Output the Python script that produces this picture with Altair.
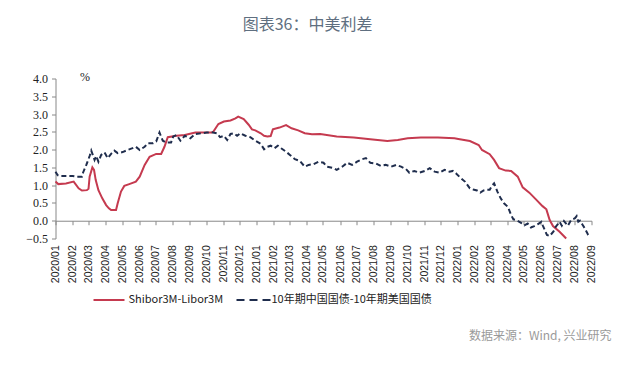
import altair as alt
import pandas as pd

TITLE = "图表36：中美利差"
SOURCE = "数据来源：Wind, 兴业研究"
UNIT = "%"
SERIES_RED = "Shibor3M-Libor3M"
SERIES_NAVY = "10年期中国国债-10年期美国国债"
RED = "#c53a4f"
NAVY = "#1f2d4d"

red_dates = [
    "2020-01-01", "2020-01-06", "2020-01-20", "2020-02-03", "2020-02-12", "2020-02-18", "2020-02-27", "2020-03-01", "2020-03-03", "2020-03-08",
    "2020-03-11", "2020-03-14", "2020-03-19", "2020-03-26", "2020-04-02", "2020-04-07", "2020-04-11", "2020-04-20", "2020-04-23", "2020-04-29",
    "2020-05-05", "2020-05-14", "2020-05-26", "2020-06-02", "2020-06-11", "2020-06-20", "2020-07-02", "2020-07-11", "2020-07-17", "2020-07-23",
    "2020-08-08", "2020-08-23", "2020-09-11", "2020-10-11", "2020-10-14", "2020-10-23", "2020-11-02", "2020-11-14", "2020-11-23", "2020-11-28",
    "2020-12-08", "2020-12-17", "2020-12-23", "2020-12-29", "2021-01-08", "2021-01-14", "2021-01-20", "2021-01-26", "2021-01-30", "2021-02-11",
    "2021-02-23", "2021-03-05", "2021-03-17", "2021-03-29", "2021-04-11", "2021-04-26", "2021-05-26", "2021-06-26", "2021-07-26", "2021-08-26",
    "2021-09-14", "2021-10-02", "2021-10-26", "2021-11-26", "2021-12-26", "2022-01-02", "2022-01-23", "2022-02-08", "2022-02-14", "2022-02-28",
    "2022-03-08", "2022-03-17", "2022-03-29", "2022-04-08", "2022-04-20", "2022-04-29", "2022-05-11", "2022-05-23", "2022-06-04", "2022-06-11",
    "2022-06-17", "2022-06-23", "2022-07-05", "2022-07-17",
]
red_values = [
    1.10, 1.03, 1.05, 1.10, 0.91, 0.85, 0.86, 0.90, 1.24, 1.50,
    1.43, 1.15, 0.86, 0.63, 0.44, 0.35, 0.30, 0.30, 0.49, 0.82,
    0.98, 1.03, 1.10, 1.24, 1.57, 1.80, 1.88, 1.88, 2.08, 2.35,
    2.39, 2.41, 2.48, 2.48, 2.51, 2.72, 2.79, 2.82, 2.88, 2.93,
    2.86, 2.70, 2.57, 2.54, 2.46, 2.39, 2.37, 2.38, 2.57, 2.62,
    2.69, 2.60, 2.54, 2.46, 2.43, 2.44, 2.37, 2.34, 2.29, 2.24,
    2.27, 2.32, 2.34, 2.34, 2.32, 2.30, 2.24, 2.13, 1.99, 1.87,
    1.71, 1.48, 1.41, 1.40, 1.24, 0.94, 0.79, 0.60, 0.41, 0.32,
    0.02, -0.15, -0.31, -0.50,
]

navy_dates = [
    "2020-01-01", "2020-01-05", "2020-01-08", "2020-02-01", "2020-02-08", "2020-02-18", "2020-02-20", "2020-02-26", "2020-03-03", "2020-03-06",
    "2020-03-12", "2020-03-15", "2020-03-19", "2020-03-24", "2020-03-30", "2020-04-05", "2020-04-11", "2020-04-17", "2020-04-23", "2020-05-02",
    "2020-05-11", "2020-05-20", "2020-05-26", "2020-06-02", "2020-06-11", "2020-06-17", "2020-06-26", "2020-07-02", "2020-07-08", "2020-07-14",
    "2020-07-20", "2020-07-29", "2020-08-02", "2020-08-08", "2020-08-15", "2020-08-23", "2020-09-02", "2020-09-11", "2020-09-23", "2020-10-02",
    "2020-10-11", "2020-10-20", "2020-10-26", "2020-11-02", "2020-11-08", "2020-11-14", "2020-11-20", "2020-11-26", "2020-12-02", "2020-12-11",
    "2020-12-20", "2020-12-29", "2021-01-08", "2021-01-14", "2021-01-20", "2021-01-26", "2021-02-02", "2021-02-08", "2021-02-14", "2021-02-23",
    "2021-03-02", "2021-03-11", "2021-03-20", "2021-03-29", "2021-04-05", "2021-04-14", "2021-04-23", "2021-05-02", "2021-05-08", "2021-05-20",
    "2021-05-26", "2021-06-05", "2021-06-14", "2021-06-23", "2021-07-02", "2021-07-11", "2021-07-18", "2021-07-26", "2021-08-05", "2021-08-14",
    "2021-08-23", "2021-09-02", "2021-09-11", "2021-09-20", "2021-09-29", "2021-10-05", "2021-10-14", "2021-10-23", "2021-11-02", "2021-11-11",
    "2021-11-20", "2021-11-29", "2021-12-08", "2021-12-17", "2021-12-23", "2021-12-29", "2022-01-05", "2022-01-14", "2022-01-23", "2022-01-29",
    "2022-02-05", "2022-02-11", "2022-02-17", "2022-02-23", "2022-02-28", "2022-03-04", "2022-03-08", "2022-03-11", "2022-03-14", "2022-03-20",
    "2022-03-26", "2022-04-02", "2022-04-08", "2022-04-12", "2022-04-17", "2022-04-26", "2022-05-02", "2022-05-08", "2022-05-14", "2022-05-20",
    "2022-05-26", "2022-06-02", "2022-06-05", "2022-06-12", "2022-06-17", "2022-06-24", "2022-06-28", "2022-07-05", "2022-07-09", "2022-07-13",
    "2022-07-20", "2022-07-26", "2022-08-02", "2022-08-05", "2022-08-08", "2022-08-11", "2022-08-16", "2022-08-20", "2022-08-26", "2022-08-29",
]
navy_values = [
    1.38, 1.28, 1.26, 1.26, 1.24, 1.24, 1.35, 1.57, 1.82, 1.97,
    1.71, 1.82, 1.66, 1.85, 1.92, 1.76, 1.88, 1.97, 1.90, 1.93,
    1.99, 2.04, 2.08, 1.99, 2.08, 2.18, 2.18, 2.23, 2.48, 2.25,
    2.20, 2.20, 2.37, 2.41, 2.25, 2.39, 2.32, 2.44, 2.46, 2.48,
    2.49, 2.46, 2.35, 2.39, 2.27, 2.44, 2.46, 2.39, 2.46, 2.39,
    2.35, 2.25, 2.16, 2.01, 2.08, 2.11, 2.04, 2.11, 2.04, 1.94,
    1.85, 1.73, 1.68, 1.52, 1.57, 1.59, 1.66, 1.63, 1.52, 1.48,
    1.43, 1.52, 1.63, 1.57, 1.66, 1.73, 1.76, 1.63, 1.61, 1.54,
    1.57, 1.52, 1.57, 1.52, 1.45, 1.35, 1.40, 1.35, 1.40, 1.48,
    1.38, 1.35, 1.43, 1.38, 1.40, 1.33, 1.22, 1.10, 0.91, 0.88,
    0.85, 0.79, 0.85, 0.87, 0.87, 0.98, 1.05, 0.94, 0.82, 0.63,
    0.49, 0.39, 0.16, 0.04, 0.02, -0.06, -0.13, -0.08, -0.19, -0.15,
    -0.10, -0.03, -0.15, -0.40, -0.43, -0.30, -0.17, -0.03, -0.14, -0.01,
    -0.14, 0.02, 0.07, 0.13, -0.03, 0.00, -0.12, -0.22, -0.40, -0.45,
]

y_ticks = [-0.5, 0.0, 0.5, 1.0, 1.5, 2.0, 2.5, 3.0, 3.5, 4.0]

red_df = pd.DataFrame({"date": red_dates, "value": red_values, "series": SERIES_RED})
navy_df = pd.DataFrame({"date": navy_dates, "value": navy_values, "series": SERIES_NAVY})

month_ticks = [alt.DateTime(year=2020 + i // 12, month=i % 12 + 1, date=1, utc=True) for i in range(33)]

PLOT_W = 536
PLOT_H = 160
ZERO_OFFSET = PLOT_H * 0.5 / 4.5  # distance from bottom (-0.5) to 0.0

x_scale = alt.Scale(
    type="utc",
    domain=[alt.DateTime(year=2020, month=1, date=1, utc=True),
            alt.DateTime(year=2022, month=9, date=1, utc=True)],
)
y_scale = alt.Scale(domain=[-0.5, 4.0], nice=False, zero=False)

x_axis = alt.Axis(
    values=month_ticks, labelExpr="utcFormat(datum.value, '%Y/%m')", title=None,
    offset=-ZERO_OFFSET, labelPadding=20,
)
y_axis = alt.Axis(values=y_ticks, labelExpr="format(datum.value, '.1f')", title=None)

red_line = alt.Chart(red_df).mark_line(color=RED, strokeWidth=2).encode(
    x=alt.X("date:T", scale=x_scale, axis=x_axis),
    y=alt.Y("value:Q", scale=y_scale, axis=y_axis),
)
navy_line = alt.Chart(navy_df).mark_line(color=NAVY, strokeWidth=2, strokeDash=[5, 3]).encode(
    x=alt.X("date:T", scale=x_scale, axis=x_axis),
    y=alt.Y("value:Q", scale=y_scale, axis=y_axis),
)

one = pd.DataFrame({"t": [0]})
title = alt.Chart(pd.DataFrame({"t": [TITLE]})).mark_text(
    font="Noto Sans CJK SC", fontSize=16, color="#5f6f80", align="center", baseline="middle"
).encode(text="t:N", x=alt.value(252), y=alt.value(-53.5))
unit = alt.Chart(pd.DataFrame({"t": [UNIT]})).mark_text(
    font="Liberation Serif", fontSize=12, color="#222222", align="center", baseline="middle"
).encode(text="t:N", x=alt.value(29.5), y=alt.value(-1.5))
source = alt.Chart(pd.DataFrame({"t": [SOURCE]})).mark_text(
    font="Noto Sans CJK SC", fontSize=12, color="#9a9a9a", align="right", baseline="middle"
).encode(text="t:N", x=alt.value(556), y=alt.value(257.5))

leg_red = alt.Chart(one).mark_rule(color=RED, strokeWidth=2).encode(
    x=alt.value(38), x2=alt.value(69), y=alt.value(221.5))
leg_red_t = alt.Chart(pd.DataFrame({"t": [SERIES_RED]})).mark_text(
    font="Noto Sans CJK SC", fontSize=11, color="#222222", align="left", baseline="middle"
).encode(text="t:N", x=alt.value(73), y=alt.value(221.5))
leg_navy = alt.Chart(one).mark_rule(color=NAVY, strokeWidth=2, strokeDash=[8, 5]).encode(
    x=alt.value(181), x2=alt.value(215), y=alt.value(221.5))
leg_navy_t = alt.Chart(pd.DataFrame({"t": [SERIES_NAVY]})).mark_text(
    font="Noto Sans CJK SC", fontSize=11, color="#222222", align="left", baseline="middle"
).encode(text="t:N", x=alt.value(216), y=alt.value(221.5))

chart = alt.layer(
    red_line, navy_line, title, unit, source, leg_red, leg_red_t, leg_navy, leg_navy_t
).properties(
    width=PLOT_W, height=PLOT_H,
    autosize=alt.AutoSizeParams(type="none"),
    padding={"left": 47.5, "top": 70.5, "right": 38, "bottom": 118},
).configure_view(stroke=None).configure_axis(
    grid=False, domainColor="#888888", tickColor="#888888", tickSize=4,
    labelColor="#222222", labelOverlap=False,
).configure_axisX(
    labelAngle=270, labelAlign="right", labelBaseline="middle",
    labelFont="Liberation Sans", labelFontSize=10.5,
).configure_axisY(
    labelFont="Liberation Serif", labelFontSize=12, labelPadding=4,
)

chart.save("out.html", embed_options={"renderer": "svg", "actions": False})
